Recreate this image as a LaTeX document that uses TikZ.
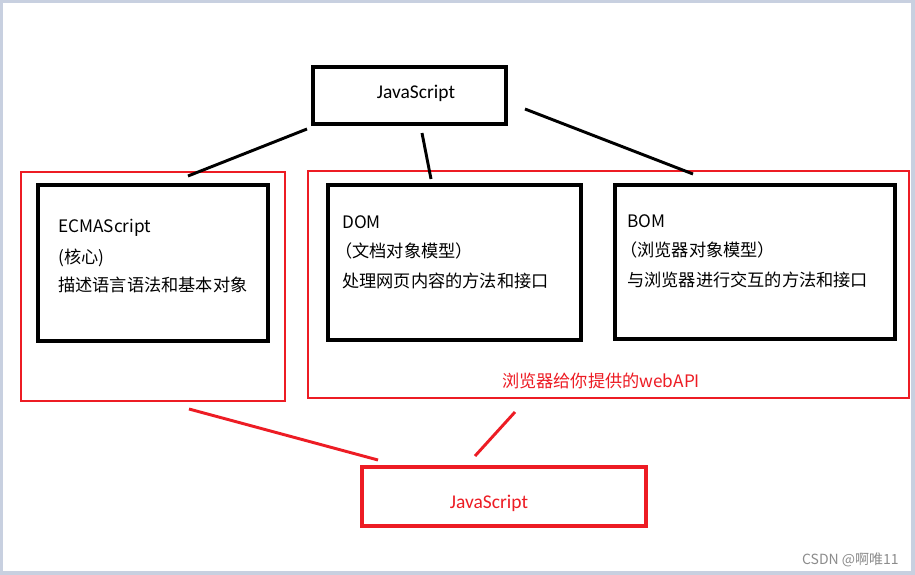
\documentclass[tikz,border=0pt]{standalone}
\usepackage{fontspec}
\setmainfont{Noto Sans CJK SC}
\newfontfamily\jsfont{Carlito}
\usepackage{xcolor}
\definecolor{paintred}{RGB}{237,28,36}
\definecolor{framegray}{RGB}{200,208,224}
\tikzset{
  blackbox/.style = {draw=black, line width=2.6pt, inner sep=0pt},
  redbox/.style   = {draw=paintred, line width=2.2pt, inner sep=0pt},
  boxtext/.style  = {anchor=base west, inner sep=0pt, font=\fontsize{12.9}{15}\selectfont},
  jstext/.style   = {inner sep=0pt, font=\jsfont\fontsize{14.6}{16}\selectfont},
  link/.style     = {line width=2.2pt},
}

\begin{document}
\begin{tikzpicture}[x=0.75pt, y=-0.75pt]
% frame of the screenshot
\fill[framegray] (0,0) rectangle (915,575);
\fill[white] (3,3) rectangle (911,571);
\useasboundingbox (0,0) rectangle (915,575);

% top box
\node[blackbox, minimum width=144.75pt, minimum height=42.75pt] (jstop) at (409.5,95.5) {};
\node[jstext] (jstoplbl) at (416,93) {JavaScript};

% ECMAScript
\node[redbox, minimum width=198pt, minimum height=171.75pt] (ecmared) at (153,286.5) {};
\node[blackbox, minimum width=172.5pt, minimum height=117pt] (ecma) at (153,263) {};
\node[boxtext] (ecma1) at (58,232) {ECMAScript};
\node[boxtext] (ecma2) at (58,263) {(核心)};
\node[boxtext] (ecma3) at (58,291) {描述语言语法和基本对象};

% browser part
\node[redbox, minimum width=450.75pt, minimum height=170.25pt] (apired) at (608.5,284.5) {};
\node[blackbox, minimum width=189.75pt, minimum height=116.25pt] (dom) at (454.5,262.5) {};
\node[blackbox, minimum width=210pt, minimum height=115.5pt] (bom) at (755,262) {};
\node[boxtext] (dom1) at (342,228) {DOM};
\node[boxtext] (dom2) at (335,257) {（文档对象模型）};
\node[boxtext] (dom3) at (342,287) {处理网页内容的方法和接口};
\node[boxtext] (bom1) at (627,227) {BOM};
\node[boxtext] (bom2) at (620,256) {（浏览器对象模型）};
\node[boxtext] (bom3) at (627,286) {与浏览器进行交互的方法和接口};
\node[boxtext, anchor=base, text=paintred] (apilbl) at (601,387) {浏览器给你提供的webAPI};

% bottom box
\node[redbox, line width=2.6pt, minimum width=213pt, minimum height=44.25pt] (jsbot) at (504,496.5) {};
\node[jstext, text=paintred] (jsbotlbl) at (489,503) {JavaScript};

% loose ends of the strokes
\coordinate (t1) at (307,129);
\coordinate (t2) at (422,133);
\coordinate (t3) at (525,109);
\coordinate (e1) at (188,176);
\coordinate (d1) at (431,179);
\coordinate (b1) at (693,174);
\coordinate (r1) at (189,409);
\coordinate (r2) at (378,460);
\coordinate (r3) at (515,412);
\coordinate (r4) at (475,456);

\draw[link] (t1) -- (e1);
\draw[link] (t2) -- (d1);
\draw[link] (t3) -- (b1);
\draw[link, paintred] (r1) -- (r2);
\draw[link, paintred] (r3) -- (r4);

\node[anchor=base east, inner sep=0pt, text=black!45, font=\fontsize{10.5}{12}\selectfont] (mark) at (899,564) {CSDN @啊唯11};
\end{tikzpicture}
\end{document}
